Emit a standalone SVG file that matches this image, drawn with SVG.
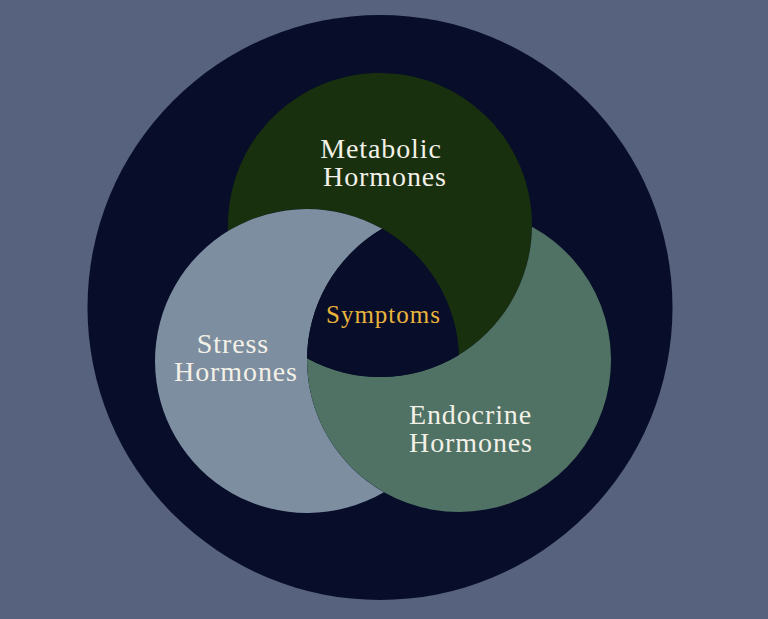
<svg xmlns="http://www.w3.org/2000/svg" width="768" height="619" viewBox="0 0 768 619">
  <style>
    .lbl { font-family: "Liberation Serif", "DejaVu Serif", serif; font-size: 28px; fill: #f3f1e7; text-anchor: middle; letter-spacing: 0.9px; }
    .sym { font-family: "Liberation Serif", "DejaVu Serif", serif; font-size: 25px; fill: #e9b43c; text-anchor: middle; letter-spacing: 1px; }
  </style>
  <rect width="768" height="619" fill="#57627e"/>
  <g id="outer">
    <circle cx="380" cy="307.5" r="292.5" fill="#080e29"/>
  </g>
  <g id="connectors"></g>
  <g id="node-metabolic">
    <path d="M228.1,231.1 A152,152 0 1 1 458.9,354.9 A152,152 0 0 0 228.1,231.1Z" fill="#19300f"/>
    <text class="lbl" x="381" y="158">Metabolic</text>
    <text class="lbl" x="385" y="186">Hormones</text>
  </g>
  <g id="node-stress">
    <path d="M382.13,228.86 A152,152 0 1 0 383.87,492.14 A152,152 0 0 1 382.13,228.86Z" fill="#7d8ea0"/>
    <text class="lbl" x="233" y="353">Stress</text>
    <text class="lbl" x="236" y="381">Hormones</text>
  </g>
  <g id="node-endocrine">
    <path d="M531.99,226.67 A152,152 0 1 1 307.01,358.33 A152,152 0 0 0 531.99,226.67Z" fill="#4f7265"/>
    <text class="lbl" x="470.5" y="424">Endocrine</text>
    <text class="lbl" x="471" y="452">Hormones</text>
  </g>
  <g id="node-symptoms">
    <path d="M382.13,228.86 A152,152 0 0 0 307.01,358.33 A152,152 0 0 0 458.9,354.9 A152,152 0 0 0 382.13,228.86Z" fill="#080e29"/>
    <text class="sym" x="383.5" y="323">Symptoms</text>
  </g>
</svg>
